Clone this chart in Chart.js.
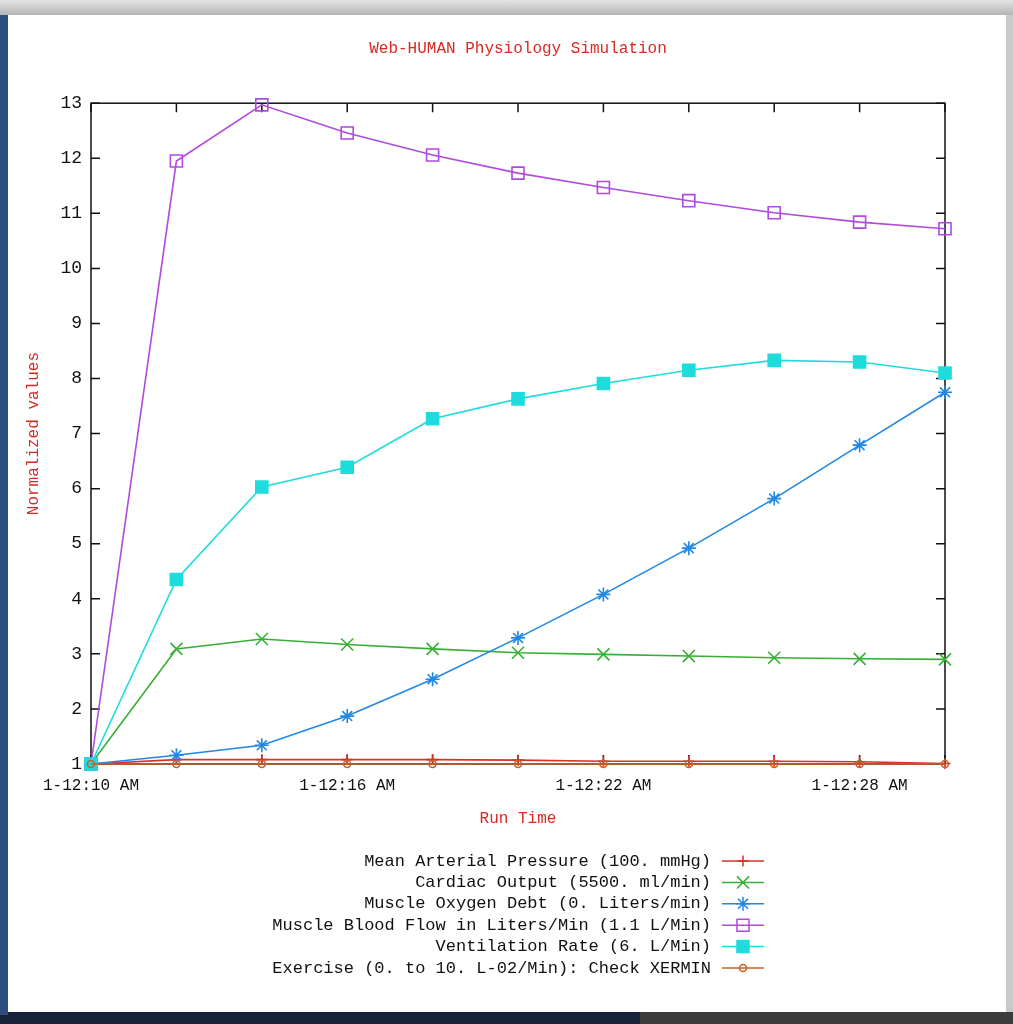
<!DOCTYPE html>
<html>
<head>
<meta charset="utf-8">
<title>Web-HUMAN Physiology Simulation</title>
<script src="https://cdn.jsdelivr.net/npm/chart.js@4.4.1/dist/chart.umd.min.js"></script>
<style>
  html, body { margin: 0; padding: 0; }
  body { width: 1013px; height: 1024px; position: relative; overflow: hidden; background: #16223a; }
  #topbar { position: absolute; left: 0; top: 0; width: 1013px; height: 15px; background: linear-gradient(#e4e4e4, #b4b4b4); border-bottom: 1px solid #8a8a8a; }
  #leftstrip { position: absolute; left: 0; top: 15px; width: 8px; height: 1000px; background: #2d4f80; }
  #rightpanel { position: absolute; left: 1006px; top: 15px; width: 7px; height: 1000px; background: #c9c9c9; }
  #paper { position: absolute; left: 8px; top: 15px; width: 998px; height: 997px; background: #fff; }
  #bottomright { position: absolute; left: 640px; top: 1012px; width: 373px; height: 12px; background: #3c3c3c; }
  #chart { position: absolute; left: 0; top: 0; }
</style>
</head>
<body>
<div id="topbar"></div>
<div id="leftstrip"></div>
<div id="rightpanel"></div>
<div id="paper"></div>
<div id="bottomright"></div>
<canvas id="chart" width="1013" height="1024"></canvas>
<script>
// Dữ liệu (chuẩn hoá, giá trị ban đầu = 1)
const runTimes = [
    '1-12:10 AM', '1-12:12 AM', '1-12:14 AM', '1-12:16 AM', '1-12:18 AM', '1-12:20 AM',
    '1-12:22 AM', '1-12:24 AM', '1-12:26 AM', '1-12:28 AM', '1-12:30 AM'
];
const labeledTimes = ['1-12:10 AM', '1-12:16 AM', '1-12:22 AM', '1-12:28 AM'];

const meanArterialPressure = [1.0, 1.08, 1.08, 1.08, 1.08, 1.07, 1.05, 1.05, 1.05, 1.04, 1.01];
const cardiacOutput = [1.0, 3.09, 3.27, 3.17, 3.09, 3.02, 2.99, 2.96, 2.93, 2.91, 2.90];
const muscleOxygenDebt = [1.0, 1.16, 1.34, 1.87, 2.54, 3.29, 4.08, 4.92, 5.82, 6.79, 7.75];
const muscleBloodFlow = [1.0, 11.95, 12.97, 12.46, 12.06, 11.73, 11.47, 11.23, 11.01, 10.84, 10.72];
const ventilationRate = [1.0, 4.35, 6.03, 6.39, 7.27, 7.63, 7.91, 8.15, 8.33, 8.30, 8.10];
const exercise = [1, 1, 1, 1, 1, 1, 1, 1, 1, 1, 1];

const red = '#d62a22';
const monoFont = 'Liberation Mono, DejaVu Sans Mono, monospace';

function series(label, data, color, style, radius, filled, order) {
    return {
        label: label,
        data: data,
        borderColor: color,
        backgroundColor: color,
        borderWidth: 1.6,
        pointStyle: style,
        pointRadius: radius,
        pointBorderWidth: 1.6,
        pointBorderColor: color,
        pointBackgroundColor: filled ? color : 'rgba(0,0,0,0)',
        tension: 0,
        fill: false,
        clip: false,
        order: order
    };
}

// gnuplot-style border + inward tick marks
const gnuFrame = {
    id: 'gnuFrame',
    beforeDatasetsDraw(chart) {
        const { ctx, chartArea: a, scales } = chart;
        ctx.save();
        ctx.strokeStyle = '#111';
        ctx.lineWidth = 1.5;
        ctx.strokeRect(a.left, a.top, a.right - a.left, a.bottom - a.top);
        ctx.beginPath();
        scales.y.ticks.forEach((t, i) => {
            const y = scales.y.getPixelForTick(i);
            ctx.moveTo(a.left, y); ctx.lineTo(a.left + 9, y);
            ctx.moveTo(a.right, y); ctx.lineTo(a.right - 9, y);
        });
        scales.x.ticks.forEach((t, i) => {
            const x = scales.x.getPixelForTick(i);
            ctx.moveTo(x, a.bottom); ctx.lineTo(x, a.bottom - 9);
            ctx.moveTo(x, a.top); ctx.lineTo(x, a.top + 9);
        });
        ctx.stroke();
        ctx.restore();
    }
};

// gnuplot-style key: text right-aligned, sample line on the right
const gnuKey = {
    id: 'gnuKey',
    afterDraw(chart) {
        const ctx = chart.ctx;
        const textRight = 711, lineStart = 722, lineEnd = 764, top = 861, step = 21.4;
        ctx.save();
        ctx.font = '17px ' + monoFont;
        ctx.textAlign = 'right';
        ctx.textBaseline = 'middle';
        chart.data.datasets.forEach((ds, i) => {
            const y = top + i * step;
            ctx.fillStyle = '#111';
            ctx.fillText(ds.label, textRight, y);
            ctx.strokeStyle = ds.borderColor;
            ctx.lineWidth = 1.5;
            ctx.beginPath();
            ctx.moveTo(lineStart, y);
            ctx.lineTo(lineEnd, y);
            ctx.stroke();
            ctx.fillStyle = ds.pointBackgroundColor;
            Chart.helpers.drawPoint(ctx, {
                pointStyle: ds.pointStyle,
                radius: ds.pointRadius,
                borderWidth: ds.pointBorderWidth,
                rotation: 0
            }, (lineStart + lineEnd) / 2, y);
        });
        ctx.restore();
    }
};

const ctx = document.getElementById('chart').getContext('2d');
const chart = new Chart(ctx, {
    type: 'line',
    data: {
        labels: runTimes,
        datasets: [
            series('Mean Arterial Pressure (100. mmHg)', meanArterialPressure, '#d8302a', 'cross', 5.5, false, 6),
            series('Cardiac Output (5500. ml/min)', cardiacOutput, '#35b035', 'crossRot', 8.5, false, 5),
            series('Muscle Oxygen Debt (0. Liters/min)', muscleOxygenDebt, '#2088e4', 'star', 7, false, 4),
            series('Muscle Blood Flow in Liters/Min (1.1 L/Min)', muscleBloodFlow, '#b04ade', 'rect', 8.5, false, 3),
            series('Ventilation Rate (6. L/Min)', ventilationRate, '#1edcdc', 'rect', 8.5, true, 2),
            series('Exercise (0. to 10. L-02/Min): Check XERMIN', exercise, '#c6622c', 'circle', 3.5, false, 1)
        ]
    },
    options: {
        responsive: false,
        animation: false,
        devicePixelRatio: 1,
        layout: { padding: { left: 23, right: 0, top: 0, bottom: 190 } },
        plugins: {
            legend: { display: false },
            tooltip: { enabled: false },
            title: {
                display: true,
                text: 'Web-HUMAN Physiology Simulation',
                color: red,
                font: { family: monoFont, size: 16, weight: 'normal' },
                padding: { top: 39, bottom: 45 }
            }
        },
        scales: {
            x: {
                type: 'category',
                offset: false,
                grid: { display: false, drawTicks: false },
                border: { display: false },
                ticks: {
                    autoSkip: false,
                    maxRotation: 0,
                    padding: 12,
                    color: '#111',
                    font: { family: monoFont, size: 16 },
                    callback: function (value) {
                        const l = this.getLabelForValue(value);
                        return labeledTimes.includes(l) ? l : '';
                    }
                },
                title: {
                    display: true,
                    text: 'Run Time',
                    color: red,
                    font: { family: monoFont, size: 16 },
                    padding: { top: 0, bottom: 6 }
                },
                afterFit: s => { s.height = 70; }
            },
            y: {
                min: 1,
                max: 13,
                grid: { display: false, drawTicks: false },
                border: { display: false },
                ticks: { stepSize: 1, padding: 9, color: '#111', font: { family: monoFont, size: 18 } },
                title: {
                    display: true,
                    text: 'Normalized values',
                    color: red,
                    font: { family: monoFont, size: 16 },
                    padding: { top: 1, bottom: 0 }
                },
                afterFit: s => { s.width = 68; }
            },
            yRight: {
                position: 'right',
                min: 1,
                max: 13,
                grid: { display: false, drawTicks: false },
                border: { display: false },
                ticks: { display: false },
                afterFit: s => { s.width = 68; }
            }
        }
    },
    plugins: [gnuFrame, gnuKey]
});
</script>
</body>
</html>
